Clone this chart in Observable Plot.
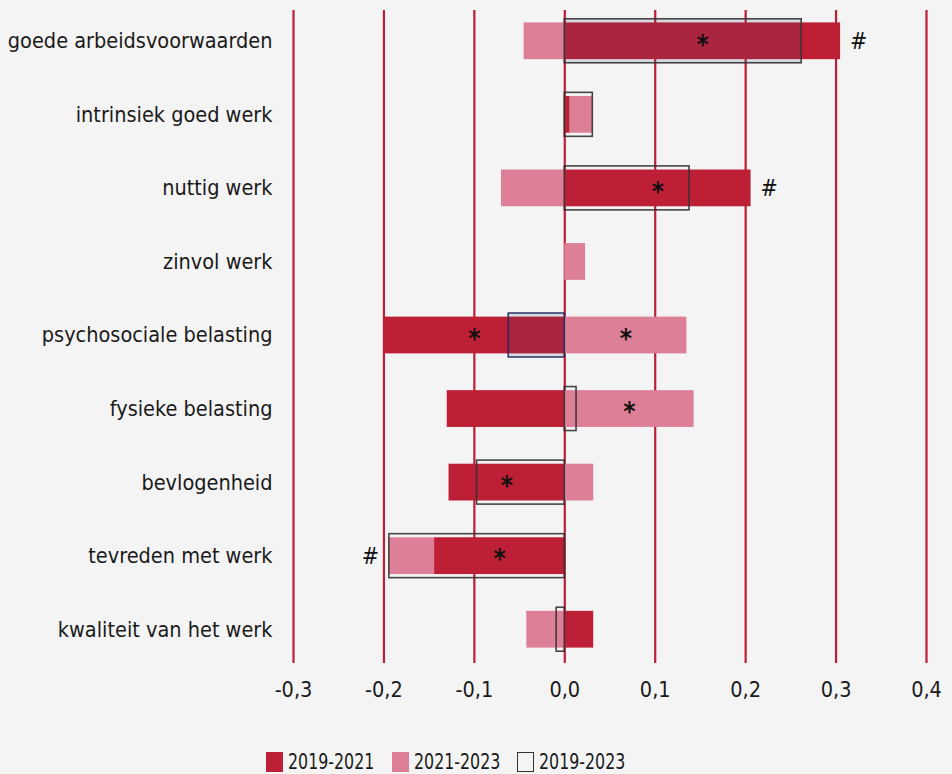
<!DOCTYPE html>
<html><head><meta charset="utf-8">
<script src="https://cdn.jsdelivr.net/npm/d3@7"></script>
<script src="https://cdn.jsdelivr.net/npm/@observablehq/plot@0.6"></script>
<style>
html,body{margin:0;padding:0;background:#f4f4f4;}
body{width:952px;height:774px;overflow:hidden;position:relative;font-family:"DejaVu Sans Condensed","Open Sans",sans-serif;color:#1a1a1a;}
#chart{position:absolute;left:0;top:0;}
#legend{position:absolute;left:0;top:750px;width:952px;height:24px;font-size:22px;line-height:24px;}
.sw{position:absolute;top:2px;width:17px;height:20px;box-sizing:border-box;}
.lt{position:absolute;top:0;white-space:nowrap;transform:scaleX(0.8);transform-origin:0 50%;}
</style></head><body><div id="chart"></div><div id="legend"></div>
<script>
const categories = ["goede arbeidsvoorwaarden","intrinsiek goed werk","nuttig werk","zinvol werk","psychosociale belasting","fysieke belasting","bevlogenheid","tevreden met werk","kwaliteit van het werk"];
const series = ["2019-2021","2021-2023","2019-2023"];
const v2019_2021 = [0.305, 0.006, 0.206, 0, -0.2, -0.13, -0.128, -0.144, 0.032];
const v2021_2023 = [-0.045, 0.025, -0.07, 0.023, 0.135, 0.143, 0.032, -0.05, -0.042];
const v2019_2023 = [0.262, 0.031, 0.138, null, -0.062, 0.013, -0.097, -0.194, -0.009];
const sig2019_2021 = [true,false,true,false,true,false,true,true,false];
const sig2021_2023 = [false,false,false,false,true,true,false,false,false];
const hash2019_2023 = [true,false,true,false,false,false,false,true,false];
const shadedBoxes = ["goede arbeidsvoorwaarden","psychosociale belasting"];
const navyBoxes = ["psychosociale belasting"];
const xTicks = [-0.3,-0.2,-0.1,0,0.1,0.2,0.3,0.4];

const RED = "#bd1f36", PINK = "#dc7f97";
const FONT = "'DejaVu Sans Condensed','Open Sans',sans-serif";

const rows = categories.flatMap((c,i)=>[
  {cat:c, series:series[0], value:v2019_2021[i], star:sig2019_2021[i]},
  {cat:c, series:series[1], value:v2021_2023[i], star:sig2021_2023[i]}
]);
const boxes = categories.map((c,i)=>({cat:c, value:v2019_2023[i]})).filter(d=>d.value!=null);
const hashes = categories.map((c,i)=>{
  const a=v2019_2021[i], b=v2021_2023[i], t=v2019_2023[i];
  const pos=Math.max(a,0)+Math.max(b,0), neg=Math.min(a,0)+Math.min(b,0);
  const ext = t>=0 ? Math.max(pos,t) : Math.min(neg,t);
  return {cat:c, x:ext, side: t>=0?1:-1, on:hash2019_2023[i]};
}).filter(d=>d.on);

const fmt = d => d.toFixed(1).replace(".", ",");

const chart = Plot.plot({
  width:952, height:716,
  marginLeft:293, marginRight:26, marginTop:4, marginBottom:50,
  style:{background:"#f4f4f4", fontSize:"21.5px", fontFamily:FONT, color:"#1a1a1a"},
  x:{domain:[-0.3,0.4]},
  y:{domain:categories, paddingInner:0.5, paddingOuter:0.25, round:false},
  color:{domain:series.slice(0,2), range:[RED,PINK]},
  marks:[
    Plot.ruleX(xTicks, {stroke:RED, strokeWidth:2.2, insetTop:6, insetBottom:3}),
    Plot.barX(rows, {y:"cat", x:"value", fill:"series"}),
    Plot.barX(boxes, {y:"cat", x1:0, x2:"value",
      fill:d=>shadedBoxes.includes(d.cat)?"#464d79":"none", fillOpacity:0.15,
      stroke:d=>navyBoxes.includes(d.cat)?"#1f2b5c":"#333", strokeOpacity:0.9, strokeWidth:1.6,
      insetTop:-3.6, insetBottom:-3.6}),
    Plot.text(rows, Plot.stackX({y:"cat", x:"value", z:"series", text:d=>d.star?"*":"", fontSize:26, fontWeight:"bold", dy:4, fill:"#111"})),
    Plot.text(hashes.filter(d=>d.side>0), {y:"cat", x:"x", text:()=>"#", dx:18, fontSize:23, fill:"#111"}),
    Plot.text(hashes.filter(d=>d.side<0), {y:"cat", x:"x", text:()=>"#", dx:-19, fontSize:23, fill:"#111"}),
    Plot.axisY({tickSize:0, tickPadding:21, label:null}),
    Plot.axisX({ticks:xTicks, tickSize:0, tickPadding:15, tickFormat:fmt, label:null})
  ]
});
document.getElementById("chart").append(chart);

const legend = document.getElementById("legend");
const legendPos = [266, 392, 517];
[[series[0],RED,"none"],[series[1],PINK,"none"],[series[2],"none","#333"]].forEach(([lab,f,s],i)=>{
  const sw=document.createElement("div"); sw.className="sw";
  sw.style.left=legendPos[i]+"px";
  sw.style.background=f==="none"?"transparent":f;
  if(s!=="none") sw.style.border="1.5px solid "+s;
  const tx=document.createElement("span"); tx.className="lt"; tx.textContent=lab;
  tx.style.left=(legendPos[i]+22)+"px";
  legend.append(sw,tx);
});
</script></body></html>
